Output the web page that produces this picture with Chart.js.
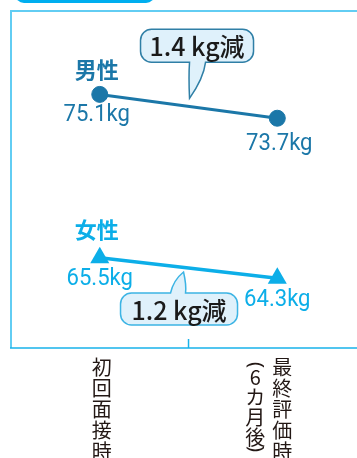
<!DOCTYPE html>
<html>
<head>
<meta charset="utf-8">
<style>
  html, body { margin: 0; padding: 0; overflow: hidden; background: #fff; }
  #wrap { width: 357px; height: 458px; }
</style>
<script src="https://cdn.jsdelivr.net/npm/chart.js@4/dist/chart.umd.min.js"></script>
</head>
<body>
<div id="wrap"><canvas id="weightChart" width="357" height="458"></canvas></div>
<script>
// data
const categories = ['初回面接時', '最終評価時'];
const categoryNotes = ['', '（6カ月後）'];
const seriesNames = ['男性', '女性'];
const maleKg = [75.1, 73.7];
const femaleKg = [65.5, 64.3];

const MALE = '#1b77a8';
const FEMALE = '#0caee8';

// per series look for the hand drawn labels
const seriesStyle = [
  { color: MALE, nameDy: -25, valueDy: [27, 32], valueDx: [-3, 2],
    bubble: { left: -48, top: -77, w: 113, h: 33, side: 'bottom', a: 1, b: 17, tx: 1, ty: -8, stroke: '#2f7fa6' } },
  { color: FEMALE, nameDy: -28, valueDy: [27, 28], valueDx: [0, 0],
    bubble: { left: -68, top: 25, w: 117, h: 32, side: 'top', a: -18, b: -3, tx: -5, ty: 4, stroke: '#3cb4e4' } }
];

const kgFont = '24px Roboto';

const toPoints = arr => arr.map((v, i) => ({ x: i, y: v }));

function bubblePath(ctx, x, y, w, h, r, t) {
  ctx.beginPath();
  ctx.moveTo(x + r, y);
  if (t.side === 'top') {
    ctx.lineTo(t.a, y);
    ctx.quadraticCurveTo(t.a + 3, y - 13, t.tx, t.ty);
    ctx.quadraticCurveTo(t.b + 1, y - 8, t.b, y);
  }
  ctx.lineTo(x + w - r, y);
  ctx.arcTo(x + w, y, x + w, y + r, r);
  ctx.lineTo(x + w, y + h - r);
  ctx.arcTo(x + w, y + h, x + w - r, y + h, r);
  if (t.side === 'bottom') {
    ctx.lineTo(t.b, y + h);
    ctx.quadraticCurveTo(t.b - 2, y + h + 16, t.tx, t.ty);
    ctx.quadraticCurveTo(t.a - 1, y + h + 14, t.a, y + h);
  }
  ctx.lineTo(x + r, y + h);
  ctx.arcTo(x, y + h, x, y + h - r, r);
  ctx.lineTo(x, y + r);
  ctx.arcTo(x, y, x + r, y, r);
  ctx.closePath();
}

const framePlugin = {
  id: 'frame',
  beforeDatasetsDraw(chart) {
    const { ctx, chartArea: ca, scales: { x } } = chart;
    const edge = chart.width;
    ctx.save();
    // title box peeking in at the top
    ctx.fillStyle = '#00aeef';
    ctx.beginPath();
    ctx.roundRect(15, -20, 140, 23, 9);
    ctx.fill();
    // light frame
    ctx.strokeStyle = '#62cdf3';
    ctx.lineWidth = 2;
    ctx.beginPath();
    ctx.moveTo(ca.left, ca.bottom);
    ctx.lineTo(ca.left, ca.top);
    ctx.lineTo(edge, ca.top);
    ctx.stroke();
    // baseline + middle tick
    ctx.strokeStyle = '#19b2ea';
    ctx.lineWidth = 1.5;
    ctx.beginPath();
    ctx.moveTo(ca.left - 1, ca.bottom);
    ctx.lineTo(edge, ca.bottom);
    const mid = x.getPixelForValue(0.5);
    ctx.moveTo(mid, ca.bottom - 9);
    ctx.lineTo(mid, ca.bottom);
    ctx.stroke();
    ctx.restore();
  }
};

const labelPlugin = {
  id: 'seriesLabels',
  afterDatasetsDraw(chart) {
    const { ctx } = chart;
    ctx.save();
    chart.data.datasets.forEach((ds, i) => {
      const st = seriesStyle[i];
      const pts = chart.getDatasetMeta(i).data;
      // series name above first point
      ctx.fillStyle = st.color;
      ctx.textAlign = 'center';
      ctx.textBaseline = 'middle';
      ctx.font = 'bold 22px "Noto Sans CJK JP"';
      ctx.fillText(seriesNames[i], pts[0].x - 3, pts[0].y + st.nameDy);
      // values below points
      ctx.font = kgFont;
      ctx.textBaseline = 'alphabetic';
      pts.forEach((p, j) => {
        ctx.save();
        ctx.translate(p.x + st.valueDx[j], p.y + st.valueDy[j]);
        ctx.scale(0.92, 1);
        ctx.fillText(ds.data[j].y.toFixed(1) + 'kg', 0, 0);
        ctx.restore();
      });
      // difference bubble
      const b = st.bubble;
      const mx = (pts[0].x + pts[1].x) / 2;
      const my = (pts[0].y + pts[1].y) / 2;
      const bx = mx + b.left, by = my + b.top;
      bubblePath(ctx, bx, by, b.w, b.h, 11,
        { side: b.side, a: mx + b.a, b: mx + b.b, tx: mx + b.tx, ty: my + b.ty });
      ctx.fillStyle = '#dff1fb';
      ctx.fill();
      ctx.strokeStyle = b.stroke;
      ctx.lineWidth = 1.5;
      ctx.stroke();
      const diff = (ds.data[0].y - ds.data[1].y).toFixed(1);
      ctx.fillStyle = '#1a1a1a';
      ctx.font = '500 25px "Noto Sans CJK JP"';
      ctx.textBaseline = 'middle';
      ctx.fillText(diff + ' kg減', bx + b.w / 2, by + b.h / 2 + 1);
    });
    ctx.restore();
  }
};

const axisLabelPlugin = {
  id: 'verticalCategoryLabels',
  afterDraw(chart) {
    const { ctx, chartArea: ca, scales: { x } } = chart;
    ctx.save();
    ctx.fillStyle = '#231815';
    ctx.textAlign = 'center';
    ctx.textBaseline = 'middle';
    categories.forEach((label, i) => {
      const cx = x.getPixelForValue(i);
      const note = categoryNotes[i];
      const mainX = cx + (note ? 5 : 2);
      ctx.font = '20px "Noto Sans CJK JP"';
      [...label].forEach((ch, k) => ctx.fillText(ch, mainX, ca.bottom + 19 + k * 21));
      if (note) {
        const nx = cx - 22;
        let cur = ca.bottom + 11;
        [...note].forEach(ch => {
          const paren = ch === '（' || ch === '）';
          const h = paren ? 8 : 20;
          const yc = cur + h / 2;
          if (paren) {
            ctx.save();
            ctx.translate(nx, yc + (ch === '（' ? 2 : -2));
            ctx.rotate(Math.PI / 2);
            ctx.font = '20px "Noto Sans"';
            ctx.fillText(ch === '（' ? '(' : ')', 0, 0);
            ctx.restore();
          } else {
            ctx.font = '20px "Noto Sans CJK JP"';
            ctx.fillText(ch, nx, yc);
          }
          cur += h;
        });
      }
    });
    ctx.restore();
  }
};

new Chart(document.getElementById('weightChart'), {
  type: 'line',
  data: {
    datasets: [
      {
        label: seriesNames[0],
        data: toPoints(maleKg),
        borderColor: MALE,
        backgroundColor: MALE,
        borderWidth: 3,
        pointStyle: 'circle',
        pointRadius: 8,
        pointBorderWidth: 1,
        tension: 0
      },
      {
        label: seriesNames[1],
        data: toPoints(femaleKg),
        borderColor: FEMALE,
        backgroundColor: FEMALE,
        borderWidth: 3.5,
        pointStyle: 'triangle',
        pointRadius: 11,
        pointBorderWidth: 0,
        tension: 0
      }
    ]
  },
  options: {
    responsive: false,
    animation: false,
    layout: { padding: { left: 11, top: 11, right: 0, bottom: 110 } },
    scales: {
      // the point size keeps an 11px gutter on the right; the frame is drawn to the edge
      x: { type: 'linear', display: false, min: -0.5, max: 1.387 },
      y: { display: false, min: 60.2, max: 80 }
    },
    plugins: {
      legend: { display: false },
      tooltip: { enabled: false }
    }
  },
  plugins: [framePlugin, labelPlugin, axisLabelPlugin]
});
</script>
</body>
</html>
